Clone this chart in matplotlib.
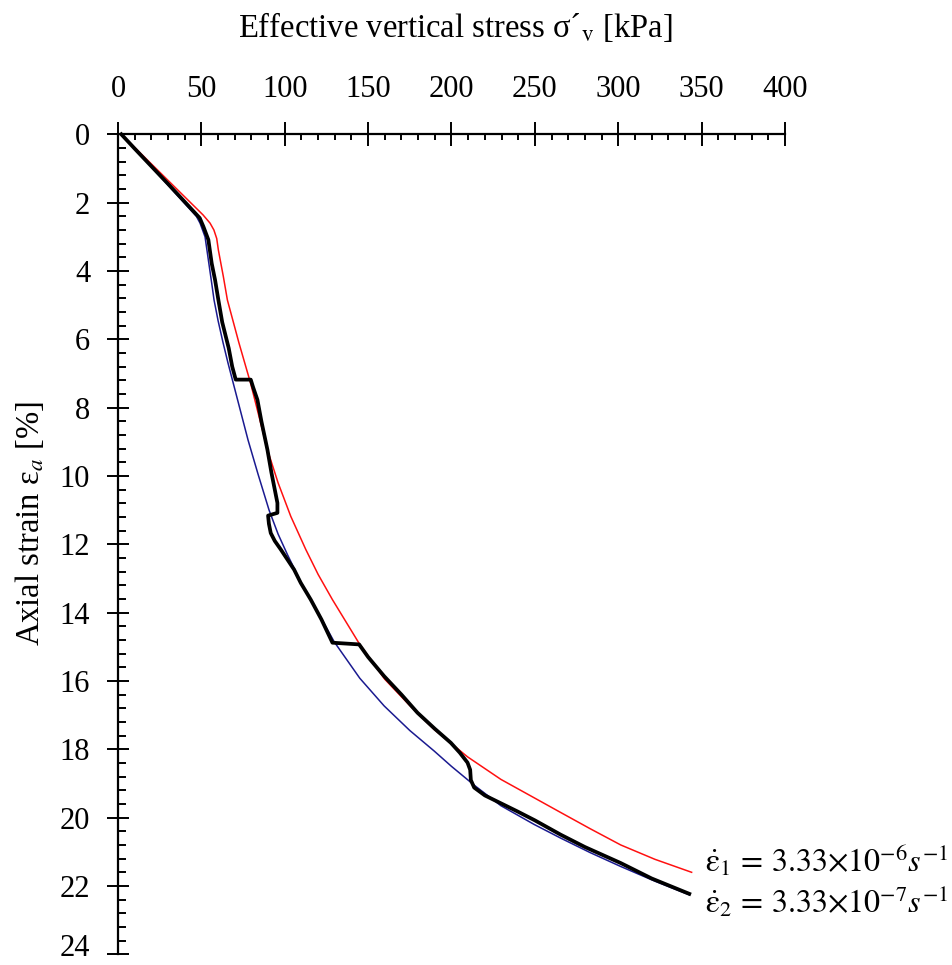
import matplotlib
matplotlib.use("Agg")
import matplotlib.pyplot as plt
from matplotlib.ticker import MultipleLocator

# ---- data (stress kPa, axial strain %) ----
red_stress = [2, 51, 55.2, 57.5, 59.2, 60.2, 63.2, 65.6, 72.5, 79.6, 89.6, 96, 103.6, 112.6,
              120, 128.6, 144.6, 160, 175, 189.6, 209.6, 229.6, 249.6, 265.5, 283, 301.5,
              322, 344]
red_strain = [0, 2.36, 2.6, 2.8, 3.05, 3.39, 4.17, 4.85, 6.1, 7.3, 9.23, 10.2, 11.18, 12.15,
              12.88, 13.62, 14.9, 15.95, 16.72, 17.42, 18.22, 18.88, 19.42, 19.85, 20.32, 20.8,
              21.22, 21.6]

blk_stress = [2, 10, 30, 49, 51.2, 54.2, 56.2, 58.2, 60.2, 62.5, 66.4, 68.5, 70.6, 79.6, 81,
              83.6, 86, 89.6, 92, 95.6, 95.6, 90, 90.5, 91.6, 94, 97.6, 105.6, 109.6,
              115.6, 122, 128.6, 144.6, 150, 159.6, 170, 179.6, 190, 199.6, 205, 209.6,
              211.2, 211.6, 213.6, 220, 229.6, 239.6, 250, 265.5, 280, 301.5, 320, 342.6]
blk_strain = [0, 0.42, 1.45, 2.45, 2.7, 3.09, 3.78, 4.26, 4.85, 5.5, 6.26, 6.8, 7.18, 7.18, 7.4,
              7.77, 8.4, 9.23, 9.9, 10.79, 11.08, 11.16, 11.4, 11.67, 11.9, 12.15, 12.74, 13.13,
              13.62, 14.2, 14.88, 14.93, 15.3, 15.86, 16.4, 16.93, 17.4, 17.81, 18.1, 18.39,
              18.6, 18.9, 19.12, 19.35, 19.58, 19.82, 20.08, 20.5, 20.86, 21.33, 21.78, 22.23]

blu_stress = [2, 20, 47, 49.2, 52.2, 54.2, 56.2, 57.6, 60, 63, 66, 70, 74, 78, 84, 90.6, 96,
              101.6, 109.6, 120, 129.6, 145, 159.6, 175, 189.6, 200, 213.6, 229.6, 249.6,
              265.5, 283, 301.5, 322, 342.6]
blu_strain = [0, 0.95, 2.4, 2.6, 3.0, 3.68, 4.36, 4.85, 5.45, 6.1, 6.7, 7.45, 8.2, 8.95, 9.95,
              11.0, 11.7, 12.3, 13.1, 14.0, 14.85, 15.92, 16.73, 17.45, 18.05, 18.5, 19.05,
              19.65, 20.2, 20.6, 21.02, 21.43, 21.86, 22.26]

x_ticks = [0, 50, 100, 150, 200, 250, 300, 350, 400]
y_ticks = [0, 2, 4, 6, 8, 10, 12, 14, 16, 18, 20, 22, 24]

plt.rcParams['font.family'] = ['Liberation Serif', 'DejaVu Serif']
plt.rcParams['mathtext.fontset'] = 'stix'

W, H = 953, 965
fig = plt.figure(figsize=(W / 100, H / 100), dpi=100)
x0, x1 = 118, 785
y0, y1 = 134.3, 954.3
ax = fig.add_axes([x0 / W, 1 - y1 / H, (x1 - x0) / W, (y1 - y0) / H])

ax.plot(red_stress, red_strain, color='#ff1010', lw=1.1, clip_on=False, zorder=3)
ax.plot(blu_stress, blu_strain, color='#1a1a90', lw=1.1, clip_on=False, zorder=3)
ax.plot(blk_stress, blk_strain, color='black', lw=2.7, clip_on=False, zorder=4)

ax.set_xlim(0, 400)
ax.set_ylim(24, 0)
ax.xaxis.tick_top()
ax.set_xticks(x_ticks)
ax.set_yticks(y_ticks)
# last y label (24) drawn separately, nudged up to stay inside the figure
ax.set_yticklabels([str(v) for v in y_ticks[:-1]] + [''])
ax.annotate(str(y_ticks[-1]), xy=(0, y_ticks[-1]), xycoords='data',
            xytext=(-20, 4.5), textcoords='offset points', ha='right', va='center',
            fontsize=22, annotation_clip=False)
ax.xaxis.set_minor_locator(MultipleLocator(10))
ax.yaxis.set_minor_locator(MultipleLocator(0.4))

for s in ['right', 'bottom']:
    ax.spines[s].set_visible(False)
for s in ['top', 'left']:
    ax.spines[s].set_linewidth(1.6)

ax.tick_params(axis='x', which='major', direction='inout', length=17, width=1.4,
               labelsize=22, pad=13.5)
ax.tick_params(axis='x', which='minor', direction='in', length=4.5, width=1.4)
ax.tick_params(axis='y', which='major', direction='inout', length=16, width=1.4,
               labelsize=22, pad=12)
ax.tick_params(axis='y', which='minor', direction='in', length=5.5, width=1.4)

fig.text(455 / W, 1 - 27 / H, "Effective vertical stress σ´$_{\\mathrm{v}}$ [kPa]",
         ha='center', va='center', fontsize=23.5)
fig.text(30 / W, 1 - 523 / H, "Axial strain ε$_{a}$ [%]", rotation=90,
         ha='center', va='center', fontsize=23.5)

fig.text(705 / W, 1 - 872 / H,
         r'$\dot{\mathrm{\varepsilon}}_1 \,=\, 3.33{\times}10^{-6}s^{-1}$',
         ha='left', va='baseline', fontsize=23)
fig.text(705 / W, 1 - 913 / H,
         r'$\dot{\mathrm{\varepsilon}}_2 \,=\, 3.33{\times}10^{-7}s^{-1}$',
         ha='left', va='baseline', fontsize=23)

fig.savefig('out.png', dpi=100)
